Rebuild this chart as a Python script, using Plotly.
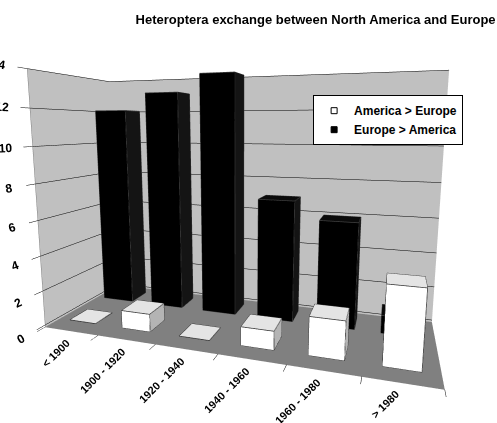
import plotly.graph_objects as go

categories = ["< 1900", "1900 - 1920", "1920 - 1940", "1940 - 1960", "1960 - 1980", "> 1980"]
series_names = ["America > Europe", "Europe > America"]
america_to_europe = [0, 1, 0, 1, 2, 4]
europe_to_america = [12, 13, 14, 7, 6, 1]
z_ticks = [0, 2, 4, 6, 8, 10, 12, 14]

Z_MIN = -0.12
FONT = "Liberation Sans, Arial, sans-serif"


def boxes(values, row, width, depth, front, top, side, edge=None):
    xs, ys, zs, I, J, K, fc = [], [], [], [], [], [], []
    ex, ey, ez = [], [], []
    for ci, v in enumerate(values):
        x0, x1 = ci - width / 2, ci + width / 2
        y0, y1 = row - depth / 2, row + depth / 2
        z0, z1 = 0, v
        b = len(xs)
        verts = [(x0, y0, z0), (x1, y0, z0), (x1, y1, z0), (x0, y1, z0),
                 (x0, y0, z1), (x1, y0, z1), (x1, y1, z1), (x0, y1, z1)]
        for (a, c, d) in verts:
            xs.append(a); ys.append(c); zs.append(d)
        tris = [((0, 1, 5), front), ((0, 5, 4), front),
                ((3, 2, 6), side), ((3, 6, 7), side),
                ((0, 3, 7), side), ((0, 7, 4), side),
                ((1, 2, 6), side), ((1, 6, 5), side),
                ((4, 5, 6), top), ((4, 6, 7), top),
                ((0, 1, 2), top), ((0, 2, 3), top)]
        for (t, col) in tris:
            I.append(b + t[0]); J.append(b + t[1]); K.append(b + t[2]); fc.append(col)
        if edge:
            for (p, q) in [(0, 1), (1, 2), (2, 3), (3, 0), (4, 5), (5, 6), (6, 7), (7, 4),
                           (0, 4), (1, 5), (2, 6), (3, 7)]:
                ex += [verts[p][0], verts[q][0], None]
                ey += [verts[p][1], verts[q][1], None]
                ez += [verts[p][2], verts[q][2], None]
    mesh = go.Mesh3d(x=xs, y=ys, z=zs, i=I, j=J, k=K, facecolor=fc, flatshading=True,
                     lighting=dict(ambient=1, diffuse=0, specular=0, fresnel=0, roughness=1),
                     hoverinfo="skip", showlegend=False)
    out = [mesh]
    if edge:
        out.append(go.Scatter3d(x=ex, y=ey, z=ez, mode="lines",
                                line=dict(color=edge, width=1.5),
                                hoverinfo="skip", showlegend=False))
    return out


fig = go.Figure()
for tr in boxes(europe_to_america, 1, 0.6, 0.45, "#000000", "#0a0a0a", "#141414", edge="#404040"):
    fig.add_trace(tr)
for tr in boxes(america_to_europe, 0, 0.5, 0.45, "#ffffff", "#e4e4e4", "#b4b4b4", edge="#303030"):
    fig.add_trace(tr)

# legend entries
fig.add_trace(go.Scatter3d(x=[None], y=[None], z=[None], mode="markers", name=series_names[0],
                           marker=dict(symbol="square", size=6, color="#ffffff",
                                       line=dict(color="#000000", width=1))))
fig.add_trace(go.Scatter3d(x=[None], y=[None], z=[None], mode="markers", name=series_names[1],
                           marker=dict(symbol="square", size=6, color="#000000",
                                       line=dict(color="#000000", width=1))))

annotations = [dict(x=i, y=-0.45, z=0, text=c, textangle=-45, showarrow=False,
                    xanchor="right", yanchor="top", xshift=2, yshift=-6,
                    font=dict(family=FONT, size=11, color="#000000", weight="bold"))
               for i, c in enumerate(categories)]

fig.update_layout(
    width=497, height=423,
    paper_bgcolor="white",
    margin=dict(l=0, r=0, t=0, b=0),
    font=dict(family=FONT, size=11, color="#000000", weight="bold"),
    title=dict(text="Heteroptera exchange between North America and Europe",
               x=0.635, xanchor="center", y=0.955, yanchor="middle",
               font=dict(family=FONT, size=13, color="#000000", weight="bold")),
    legend=dict(x=0.63, y=0.775, xanchor="left", yanchor="top",
                bgcolor="white", bordercolor="#000000", borderwidth=1,
                font=dict(family=FONT, size=12, weight="bold"),
                tracegroupgap=0, itemwidth=30),
    scene=dict(
        domain=dict(x=[0, 0.97], y=[0.06, 0.98]),
        aspectmode="manual",
        aspectratio=dict(x=2.8, y=1.0, z=1.9),
        camera=dict(eye=dict(x=1.05, y=-3.25, z=0.55),
                    center=dict(x=0, y=0, z=0),
                    projection=dict(type="perspective")),
        xaxis=dict(range=[-0.5, 5.5], tickvals=[-0.5, 0.5, 1.5, 2.5, 3.5, 4.5, 5.5],
                   ticktext=[""] * 7, showgrid=False, showbackground=True,
                   backgroundcolor="#c0c0c0",
                   showline=True, linecolor="#808080", zeroline=False, title="",
                   showspikes=False, ticks="outside", ticklen=4, tickcolor="#000000"),
        yaxis=dict(range=[-0.5, 1.5], showticklabels=False, showgrid=False,
                   showbackground=True, backgroundcolor="#c0c0c0",
                   showline=False, zeroline=False, title="", showspikes=False),
        zaxis=dict(range=[Z_MIN, 14], tickvals=z_ticks, showgrid=True, gridcolor="#000000",
                   gridwidth=1, showbackground=True, backgroundcolor="#808080",
                   showline=True, linecolor="#808080", zeroline=False, title="",
                   showspikes=False, ticks="outside", tickcolor="#000000", ticklen=4,
                   tickfont=dict(family=FONT, size=12, color="#000000", weight="bold")),
        annotations=annotations,
    ),
)

fig.write_html("out.html")
